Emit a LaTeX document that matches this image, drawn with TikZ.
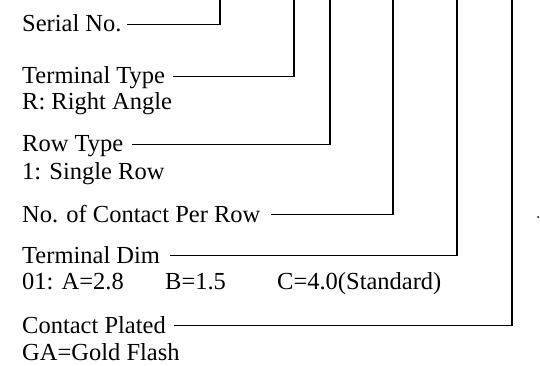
\documentclass[tikz,border=0pt]{standalone}
\usepackage{fontspec}
\setmainfont{Liberation Serif}
\begin{document}
\begin{tikzpicture}[x=1pt,y=-1pt,
  lbl/.style={anchor=base west,inner sep=0pt,text height=15pt,text depth=0pt,font=\fontsize{24.5}{26}\selectfont},
  sub/.style={anchor=base west,inner sep=0pt,font=\fontsize{24.5}{26}\selectfont},
  lead/.style={line width=1.6pt,line cap=rect}]
\useasboundingbox (0,0) rectangle (540,366);
% labels
\node[lbl] (serial) at (22,32) {Serial No.};
\node[lbl] (ttype) at (22,84) {Terminal Type};
\node[sub] (ttypev) at (22,110) {R: Right Angle};
\node[lbl] (rtype) at (22,152) {Row Type};
\node[sub] (rtypev) at (22,179) {1: Single Row};
\node[lbl] (ncont) at (22,222) {No. of Contact Per Row};
\node[lbl] (tdim) at (22,263) {Terminal Dim};
\node[sub] (tdima) at (22,289) {01: A=2.8};
\node[sub] (tdimb) at (165,289) {B=1.5};
\node[sub] (tdimc) at (277,289) {C=4.0(Standard)};
\node[lbl] (cplat) at (22,333) {Contact Plated};
\node[sub] (cplatv) at (22,360) {GA=Gold Flash};
% top ends of the leaders
\coordinate (t1) at (220,0);
\coordinate (t2) at (294,0);
\coordinate (t3) at (330,0);
\coordinate (t4) at (393,0);
\coordinate (t5) at (457,0);
\coordinate (t6) at (512,0);
% leaders
\draw[lead] ([xshift=6pt]serial.east) -| (t1);
\draw[lead] ([xshift=9pt]ttype.east) -| (t2);
\draw[lead] ([xshift=9pt]rtype.east) -| (t3);
\draw[lead] ([xshift=11pt]ncont.east) -| (t4);
\draw[lead] ([xshift=11pt]tdim.east) -| (t5);
\draw[lead] ([xshift=9pt]cplat.east) -| (t6);
% small stray mark
\fill (538,217) circle (1pt);
\end{tikzpicture}
\end{document}
